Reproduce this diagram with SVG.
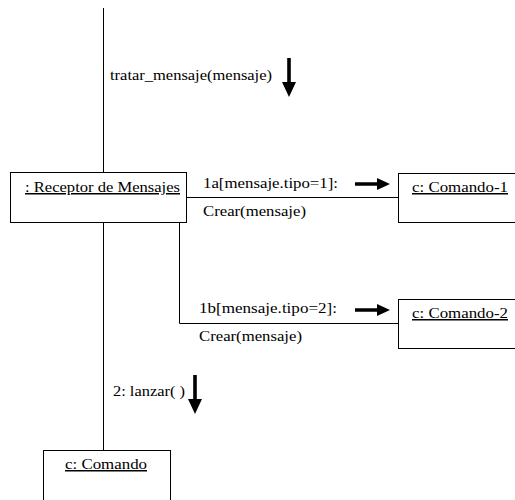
<svg xmlns="http://www.w3.org/2000/svg" xmlns:xlink="http://www.w3.org/1999/xlink" width="515" height="500" viewBox="0 0 515 500">
  <style>
    .box { fill: #ffffff; stroke: #000000; stroke-width: 1; }
    .link { fill: none; stroke: #000000; stroke-width: 1; }
    .obj { text-decoration: underline; }
    .lbl { font-family: "Times New Roman", "Liberation Serif", Tinos, "DejaVu Serif", serif; font-size: 15px; fill: #000000; }
  </style>
  <defs>
    <!-- thick message arrow pointing right, origin at the tail centre -->
    <path id="arrowRight" d="M0,-1.8 H22 V-6 L35,0 L22,6 V1.8 H0 Z" fill="#000000"/>
    <!-- thick message arrow pointing down, origin at the tail centre -->
    <path id="arrowDown" d="M-1.8,0 V24 H-7 L0,39 L7,24 H1.8 V0 Z" fill="#000000"/>
  </defs>

  <!-- links between objects -->
  <g id="connectors">
    <line class="link" x1="103.5" y1="8" x2="103.5" y2="172.5"/>
    <line class="link" x1="103.5" y1="222.5" x2="103.5" y2="450.5"/>
    <line class="link" x1="186.5" y1="197.5" x2="398.5" y2="197.5"/>
    <polyline class="link" points="179.5,222.5 179.5,323.5 398.5,323.5"/>
  </g>

  <!-- message labels and direction arrows -->
  <g id="messages">
    <text class="lbl" x="110" y="80" textLength="162" lengthAdjust="spacingAndGlyphs">tratar_mensaje(mensaje)</text>
    <use xlink:href="#arrowDown" x="289" y="58"/>

    <text class="lbl" x="203" y="188" textLength="135" lengthAdjust="spacingAndGlyphs">1a[mensaje.tipo=1]:</text>
    <use xlink:href="#arrowRight" x="355" y="184"/>
    <text class="lbl" x="203" y="216" textLength="103" lengthAdjust="spacingAndGlyphs">Crear(mensaje)</text>

    <text class="lbl" x="199" y="313" textLength="138" lengthAdjust="spacingAndGlyphs">1b[mensaje.tipo=2]:</text>
    <use xlink:href="#arrowRight" x="355" y="310"/>
    <text class="lbl" x="199" y="341" textLength="103" lengthAdjust="spacingAndGlyphs">Crear(mensaje)</text>

    <text class="lbl" x="113" y="396" textLength="72" lengthAdjust="spacingAndGlyphs">2: lanzar( )</text>
    <use xlink:href="#arrowDown" x="195" y="375"/>
  </g>

  <g id="receptor">
    <rect class="box" x="10.5" y="172.5" width="176" height="50"/>
    <text class="lbl obj" x="25" y="192" textLength="155" lengthAdjust="spacingAndGlyphs">: Receptor de Mensajes</text>
  </g>

  <g id="comando1">
    <rect class="box" x="398.5" y="173.5" width="125" height="49"/>
    <text class="lbl obj" x="412" y="192" textLength="96" lengthAdjust="spacingAndGlyphs">c: Comando-1</text>
  </g>

  <g id="comando2">
    <rect class="box" x="398.5" y="299.5" width="125" height="49"/>
    <text class="lbl obj" x="412" y="318" textLength="96" lengthAdjust="spacingAndGlyphs">c: Comando-2</text>
  </g>

  <g id="comando">
    <rect class="box" x="43.5" y="450.5" width="127" height="60"/>
    <text class="lbl obj" x="65" y="469" textLength="82" lengthAdjust="spacingAndGlyphs">c: Comando</text>
  </g>
</svg>
